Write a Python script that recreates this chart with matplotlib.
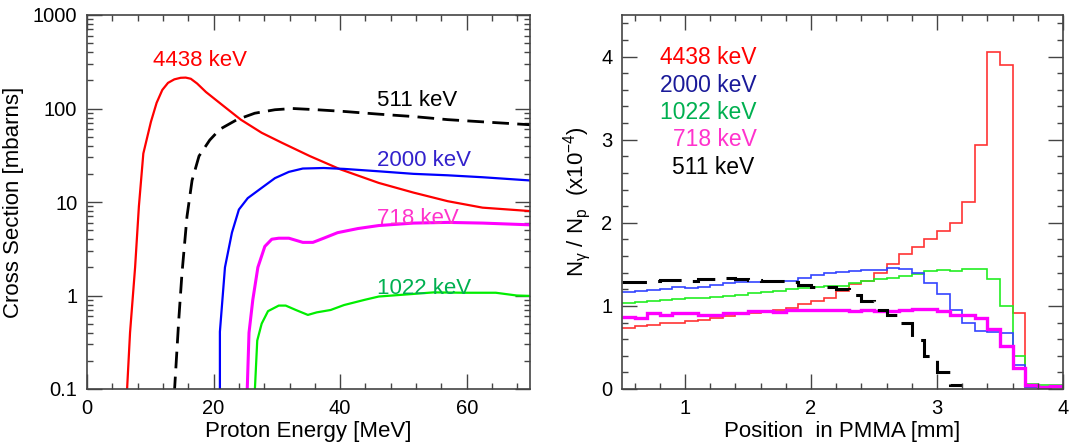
import matplotlib
matplotlib.use('Agg')
import matplotlib.pyplot as plt
from matplotlib.ticker import MultipleLocator, LogLocator, NullFormatter
import numpy as np

plt.rcParams['font.family'] = ['Liberation Sans', 'DejaVu Sans']
plt.rcParams['mathtext.fontset'] = 'custom'
plt.rcParams['mathtext.rm'] = 'Liberation Sans'
plt.rcParams['mathtext.it'] = 'Liberation Sans:italic'

# ---- left: cross sections [mbarn] vs proton energy [MeV]
e_4438 = [6.3, 6.8, 7.6, 8.2, 8.9, 10.1, 11.0, 11.9, 12.8, 13.8, 14.8, 15.6, 16.4,
          17.4, 18.8, 21.6, 24.3, 27.6, 30.8, 35.2, 40, 46.1, 51.6, 57, 62.5, 70]
xs_4438 = [0.09, 0.4, 2.0, 9, 33, 72, 115, 158, 188, 205, 213, 214, 208,
           185, 150, 106, 76, 55, 43, 31, 22.4, 16, 12.6, 10.2, 8.7, 8.0]

e_511 = [13.8, 14.5, 15.0, 15.8, 16.6, 17.7, 19.4, 21, 23.7, 26.5, 29.7, 32.5,
         36.3, 40.6, 46.1, 51.6, 57, 62.5, 70]
xs_511 = [0.09, 0.55, 1.7, 7, 17, 31, 46, 60, 76, 89, 97, 100,
          97, 93, 87, 82, 76, 72, 67]

e_2000 = [21.0, 21.0, 21.8, 22.9, 24.0, 25.4, 27.5, 29.7, 31.9, 34.1, 37.4, 40.6,
          46.1, 51.6, 57, 62.5, 70]
xs_2000 = [0.09, 0.41, 2.0, 4.7, 8.3, 11, 14, 18, 21, 22.8, 23.1, 22.6,
           21.3, 20, 19.3, 18.4, 17]

e_718 = [25.3, 25.6, 26.2, 27.0, 28.1, 29.2, 30.3, 31.9, 34.1, 35.7, 37.4, 39.6,
         42.8, 46.1, 51.6, 57, 62.5, 70]
xs_718 = [0.09, 0.4, 0.9, 2.0, 3.35, 4.0, 4.1, 4.1, 3.7, 3.7, 4.1, 4.7,
          5.2, 5.6, 5.95, 6.05, 5.95, 5.7]

e_1022 = [26.5, 26.9, 27.6, 28.6, 30.3, 31.4, 33.0, 34.9, 36.3, 38.5, 40.6, 43.9,
          46.1, 51.6, 54.8, 59.7, 64.6, 67.9, 70]
xs_1022 = [0.09, 0.33, 0.5, 0.68, 0.78, 0.78, 0.70, 0.62, 0.66, 0.70, 0.79, 0.9,
           0.975, 1.04, 1.08, 1.07, 1.07, 1.0, 0.99]

# ---- right: N_gamma / N_p (x1e-4) per 0.1 mm bin, from 0.5 to 4.0 mm
pos_edges = np.linspace(0.5, 4.0, 36)
n_4438 = [0.735, 0.755, 0.775, 0.79, 0.80, 0.815, 0.835, 0.855, 0.875, 0.90,
          0.915, 0.93, 0.95, 0.98, 1.02, 1.06, 1.10, 1.18, 1.26, 1.305,
          1.39, 1.50, 1.62, 1.71, 1.81, 1.90, 2.0, 2.25, 2.93, 4.05,
          3.90, 0.92, 0.03, 0.03, 0.03]
n_2000 = [1.165, 1.18, 1.19, 1.20, 1.23, 1.21, 1.23, 1.25, 1.27, 1.285,
          1.285, 1.29, 1.305, 1.305, 1.34, 1.37, 1.39, 1.405, 1.42, 1.43,
          1.43, 1.46, 1.445, 1.39, 1.28, 1.14, 0.95, 0.80, 0.695, 0.68,
          0.675, 0.29, 0.03, 0.025, 0.02]
n_1022 = [1.035, 1.045, 1.055, 1.075, 1.085, 1.09, 1.095, 1.105, 1.125, 1.135,
          1.15, 1.17, 1.185, 1.205, 1.215, 1.23, 1.235, 1.245, 1.275, 1.30,
          1.32, 1.34, 1.365, 1.38, 1.42, 1.43, 1.42, 1.44, 1.445, 1.32,
          1.0, 0.40, 0.06, 0.05, 0.05]
n_718 = [0.865, 0.855, 0.91, 0.895, 0.91, 0.915, 0.895, 0.895, 0.915, 0.915,
         0.935, 0.935, 0.93, 0.945, 0.955, 0.955, 0.95, 0.945, 0.935, 0.95,
         0.935, 0.935, 0.95, 0.965, 0.965, 0.935, 0.895, 0.885, 0.855, 0.72,
         0.52, 0.25, 0.045, 0.03, 0.035]
# 511 keV histogram stops after the 3.1-3.2 mm bin
n_511 = [1.285, 1.285, 1.30, 1.31, 1.31, 1.30, 1.32, 1.325, 1.335, 1.32,
         1.31, 1.30, 1.30, 1.285, 1.255, 1.23, 1.225, 1.20, 1.135, 1.055,
         0.955, 0.885, 0.795, 0.595, 0.40, 0.21, 0.05]

frame = '#444444'

fig = plt.figure(figsize=(10.72, 4.43), dpi=100)
ax1 = fig.add_axes([87/1072, 54/443, 443/1072, 374/443])
ax2 = fig.add_axes([622/1072, 54/443, 441/1072, 374/443])

for ax in (ax1, ax2):
    for s in ax.spines.values():
        s.set_color(frame)
        s.set_linewidth(1.2)
    ax.tick_params(which='both', direction='in', top=True, right=True,
                   color=frame, width=1.0, labelsize=14.5, pad=7)
    ax.tick_params(which='major', length=11)
    ax.tick_params(which='minor', length=4.5)

# left panel
ax1.plot(e_4438, xs_4438, color='#ff0000', lw=1.6)
ax1.plot(e_511, xs_511, color='black', lw=2.0, ls=(0, (6, 3)))
ax1.plot(e_2000, xs_2000, color='#0000ff', lw=1.6)
ax1.plot(e_718, xs_718, color='#ff00ff', lw=2.2)
ax1.plot(e_1022, xs_1022, color='#00ee00', lw=1.6)
ax1.set_yscale('log')
ax1.set_xlim(0, 70)
ax1.set_ylim(0.1, 1000)
ax1.xaxis.set_major_locator(MultipleLocator(20))
ax1.xaxis.set_minor_locator(MultipleLocator(4))
ax1.yaxis.set_minor_locator(LogLocator(base=10, subs=np.arange(2, 10), numticks=20))
ax1.yaxis.set_minor_formatter(NullFormatter())
ax1.set_yticks([0.1, 1, 10, 100, 1000])
ax1.set_yticklabels(['0.1', '1', '10', '100', '1000'])
ax1.set_xlabel('Proton Energy [MeV]', fontsize=16, labelpad=2)
ax1.set_ylabel('Cross Section [mbarns]', fontsize=16, labelpad=6)

ax1.text(10.4, 330, '4438 keV', color='#ff0000', fontsize=16, va='center')
ax1.text(45.8, 123, '511 keV', color='black', fontsize=16, va='center')
ax1.text(45.8, 28, '2000 keV', color='#3322cc', fontsize=16, va='center')
ax1.text(45.8, 6.7, '718 keV', color='#ff33cc', fontsize=16, va='center')
ax1.text(45.8, 1.2, '1022 keV', color='#00b050', fontsize=16, va='center')

# right panel
ax2.stairs(n_4438, pos_edges, baseline=None, color='#ff3333', lw=1.2)
ax2.stairs(n_1022, pos_edges, baseline=None, color='#22ee22', lw=1.2)
ax2.stairs(n_2000, pos_edges, baseline=None, color='#3344ff', lw=1.2)
ax2.stairs(n_718, pos_edges, baseline=None, color='#ff00ff', lw=2.4)
ax2.stairs(n_511, pos_edges[:len(n_511) + 1], baseline=None, color='black',
           lw=2.2, ls=(0, (8, 4)))
ax2.set_xlim(0.5, 4.0)
ax2.set_ylim(0, 4.5)
ax2.xaxis.set_major_locator(MultipleLocator(1))
ax2.xaxis.set_minor_locator(MultipleLocator(0.2))
ax2.yaxis.set_major_locator(MultipleLocator(1))
ax2.yaxis.set_minor_locator(MultipleLocator(0.2))
ax2.set_xlabel('Position  in PMMA [mm]', fontsize=16, labelpad=2)
ax2.set_ylabel(r'N$_{\mathrm{γ}}$ / N$_{\mathrm{p}}$  (x10$^{-4}$)', fontsize=16, labelpad=6)

ax2.text(1.57, 3.99, '4438 keV', color='#ff0000', fontsize=16.5, va='center', ha='right')
ax2.text(1.57, 3.65, '2000 keV', color='#1a1a99', fontsize=16.5, va='center', ha='right')
ax2.text(1.57, 3.33, '1022 keV', color='#00b050', fontsize=16.5, va='center', ha='right')
ax2.text(1.57, 3.00, '718 keV', color='#ff33cc', fontsize=16.5, va='center', ha='right')
ax2.text(1.55, 2.66, '511 keV', color='black', fontsize=16.5, va='center', ha='right')

fig.savefig('out.png', dpi=100)
